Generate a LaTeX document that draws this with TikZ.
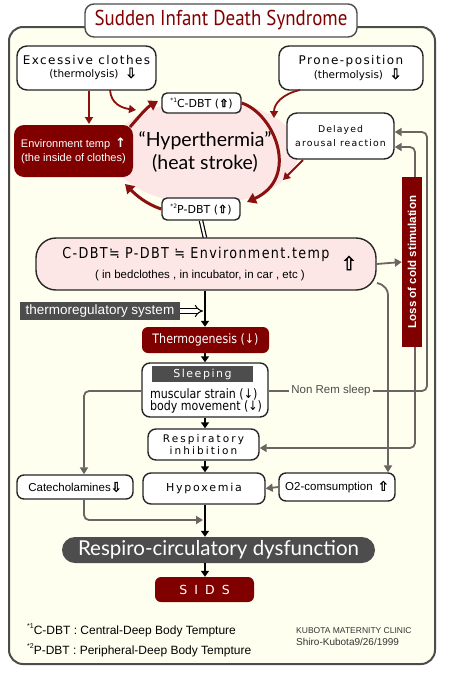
\documentclass[tikz,border=0pt]{standalone}
\usepackage{fontspec}
\setmainfont{DejaVu Sans}
\newfontfamily\dv{DejaVu Sans}
\newfontfamily\dvfb[FakeBold=2.5]{DejaVu Sans}
\newfontfamily\lato{Lato}
\newfontfamily\ptcond[FakeStretch=0.88]{PT Sans}
\newfontfamily\libsans{Liberation Sans}
\newfontfamily\dvsp[LetterSpace=12]{DejaVu Sans}
\newfontfamily\dvcond[FakeStretch=0.85]{DejaVu Sans}
\newfontfamily\dvcondsp[FakeStretch=0.85,LetterSpace=9]{DejaVu Sans}
\newcommand\uparr{{\dvfb ⇧}}
\newcommand\dnarr{{\dvfb ⇩}}
\usetikzlibrary{arrows.meta,shapes.geometric,calc}
\definecolor{dred}{HTML}{800000}
\definecolor{ared}{HTML}{8B1111}
\definecolor{cream}{HTML}{FFFFF0}
\definecolor{pinkf}{HTML}{FDE6E6}
\definecolor{dgray}{HTML}{4D4D4D}
\definecolor{lgray}{HTML}{6B6462}
\tikzset{
  wbox/.style={draw=black!85, line width=1.4pt, fill=white, rounded corners=8pt, inner sep=0pt},
  rbox/.style={fill=dred, rounded corners=6pt, inner sep=0pt, text=white},
  gbox/.style={fill=dgray, inner sep=0pt, text=white},
  lbl/.style={inner sep=0pt},
  redarr/.style={draw=ared, line width=3pt, -{Triangle[length=9pt,width=11pt]}},
  redthin/.style={draw=ared, line width=1.8pt, -{Triangle[length=7pt,width=8pt]}},
  blkarr/.style={draw=black, line width=2.6pt, -{Triangle[length=6pt,width=8pt]}},
  grayarr/.style={draw=lgray, line width=1.8pt, rounded corners=5pt, -{Triangle[length=7pt,width=8pt]}},
  grayln/.style={draw=lgray, line width=1.8pt, rounded corners=5pt},
}
\begin{document}
\begin{tikzpicture}[x=1pt,y=-1pt]
\useasboundingbox (0,0) rectangle (450,675);
\fill[white] (0,0) rectangle (450,675);
% outer frame
\draw[draw=black!70, line width=2pt, fill=cream, rounded corners=14pt] (9,27) rectangle (435,664);
% title
\node[wbox, draw=black!70, minimum width=272pt, minimum height=33pt, rounded corners=9pt, text=dred,
  font={\ptcond\fontsize{21.5}{24}\selectfont}] (title) at (221,20.5) {Sudden Infant Death Syndrome};

% top boxes
\node[wbox, minimum width=139pt, minimum height=44pt, rounded corners=10pt, align=center] (excl) at (86.5,68)
  {\dvsp\fontsize{12}{16}\selectfont Excessive clothes\\[1pt]\dv\fontsize{10.5}{12}\selectfont\ \ \ \ (thermolysis) \ {\fontsize{14}{12}\selectfont\dnarr}};
\node[wbox, minimum width=144pt, minimum height=44pt, rounded corners=10pt, align=center] (prone) at (351,68)
  {\dvsp\fontsize{12}{16}\selectfont Prone-position\\[1pt]\dv\fontsize{10.5}{12}\selectfont\ \ \ \ (thermolysis) \ {\fontsize{14}{12}\selectfont\dnarr}};

% ellipse
\node[ellipse, fill=pinkf, minimum width=158pt, minimum height=104pt, inner sep=0pt, align=center,
  font={\lato\fontsize{19.5}{23}\selectfont}] (hyper) at (205,152)
  {“Hyperthermia”\\(heat stroke)};

\node[wbox, minimum width=79pt, minimum height=20pt, rounded corners=5pt] (cdbt) at (201.5,103)
  {\fontsize{11}{12}\selectfont\raisebox{5pt}{\fontsize{6}{6}\selectfont *1}C-DBT (\uparr)};
\node[wbox, minimum width=78pt, minimum height=22pt, rounded corners=5pt] (pdbt) at (201,209)
  {\fontsize{11}{12}\selectfont\raisebox{5pt}{\fontsize{6}{6}\selectfont *2}P-DBT (\uparr)};

\node[rbox, minimum width=119pt, minimum height=52pt, rounded corners=10pt, align=center,
  font={\libsans\fontsize{11}{14}\selectfont}] (env) at (73.5,151)
  {Environment temp \,{\dv\bfseries\fontsize{13}{12}\selectfont ↑}\\(the inside of clothes)};

\node[wbox, minimum width=107pt, minimum height=46pt, rounded corners=10pt, align=center,
  font={\dvsp\fontsize{9.3}{14}\selectfont}] (delay) at (340.5,136)
  {Delayed\\arousal reaction};

% red arrows
\draw[redthin] (excl.south -| 89,0) -- (89,124);
\draw[redthin] (110,90) .. controls (111,104) and (122,108) .. (136,110);
\draw[redthin] (300,90) .. controls (282,94) and (274,104) .. (274,118);
\draw[redthin] (303,160) -- (283,180);
\draw[redarr] (cdbt.east) .. controls (275,114) and (300,178) .. (247,202);
\draw[redarr] (pdbt.west) .. controls (146,204) and (136,195) .. (125,184);
\draw[redarr] (130,127) .. controls (138,118) and (146,108) .. (158,101);

% double line
\draw[black, line width=1.2pt, double=white, double distance=2.2pt] (pdbt.south) -- (205,238);

% big box
\node[wbox, fill=pinkf, minimum width=340pt, minimum height=52pt, rounded corners=20pt] (big) at (206,264) {};
\node[lbl] (bigt1) at (196,254) {\dvcondsp\fontsize{15}{16}\selectfont C-DBT≒ P-DBT ≒ Environment.temp};
\node[lbl] (bigt2) at (200,276) {\libsans\fontsize{11.5}{12}\selectfont ( in bedclothes , in incubator, in car , etc )};
\node[lbl] (bigup) at (349,263) {\fontsize{19}{18}\selectfont\uparr};

% thermoregulatory system
\node[gbox, minimum width=160pt, minimum height=18pt] (treg) at (100,311)
  {\libsans\fontsize{13.5}{14}\selectfont thermoregulatory system};
\draw[black, line width=1pt, double=white, double distance=3.2pt, -{Implies}] (treg.east) -- (203,311);

% thermogenesis
\node[rbox, minimum width=127pt, minimum height=26pt] (thermog) at (205.5,340)
  {\dvcond\fontsize{13}{14}\selectfont Thermogenesis (↓)};
\draw[blkarr] (big.south -| 205,0) -- (thermog.north -| 205,0);

% sleeping
\node[wbox, minimum width=126pt, minimum height=54pt, rounded corners=8pt] (sleep) at (205,390) {};
\node[gbox, minimum width=101pt, minimum height=16pt] (sleepbar) at (202.5,374)
  {\dvsp\fontsize{11}{12}\selectfont\addfontfeature{LetterSpace=14}Sleeping};
\node[lbl, align=left, font={\dvcond\fontsize{13}{12}\selectfont}] (sleeptxt) at (206,401)
  {muscular strain (↓)\\body movement (↓)};
\draw[blkarr] (thermog.south -| 205,0) -- (sleep.north -| 205,0);

% respiratory inhibition
\node[wbox, minimum width=111pt, minimum height=31pt, rounded corners=8pt, align=center,
  font={\dv\addfontfeature{LetterSpace=20}\fontsize{10.5}{12.5}\selectfont}] (resp) at (203.5,444.5)
  {Respiratory\\inhibition};
\draw[blkarr] (sleep.south -| 205,0) -- (resp.north -| 205,0);

% hypoxemia, catecholamines, O2
\node[wbox, minimum width=122pt, minimum height=31pt, rounded corners=8pt] (hypox) at (204,488.5)
  {\dv\addfontfeature{LetterSpace=16}\fontsize{11}{12}\selectfont Hypoxemia};
\node[wbox, minimum width=116pt, minimum height=24pt, rounded corners=7pt] (catech) at (75,487)
  {\libsans\fontsize{11.5}{12}\selectfont Catecholamines{\fontsize{13}{12}\selectfont\dnarr}};
\node[wbox, minimum width=116pt, minimum height=28pt, rounded corners=7pt] (o2) at (337,487)
  {\libsans\fontsize{11.5}{12}\selectfont O2-comsumption \,{\fontsize{13}{12}\selectfont\uparr}};
\draw[blkarr] (resp.south -| 205,0) -- (hypox.north -| 205,0);

% loss of cold stimulation
\node[rbox, rounded corners=0pt, minimum width=20pt, minimum height=170pt] (loss) at (412,262) {};
\node[lbl, rotate=90, text=white] (losst) at (412,262) {\libsans\bfseries\fontsize{11.5}{12}\selectfont Loss of cold stimulation};

% respiro-circulatory dysfunction
\node[gbox, minimum width=313pt, minimum height=26pt, rounded corners=13pt] (respiro) at (218.5,550)
  {\lato\fontsize{20.5}{22}\selectfont Respiro-circulatory dysfunction};
\draw[blkarr] (hypox.south -| 205,0) -- (respiro.north -| 205,0);

\node[rbox, minimum width=99pt, minimum height=25pt] (sids) at (204.5,589.5)
  {\dv\addfontfeature{LetterSpace=25}\fontsize{12.5}{12}\selectfont S I D S};
\draw[blkarr] (respiro.south -| 205,0) -- (sids.north -| 205,0);

% gray connectors
\draw[grayarr] (big.east) -- (loss.west);
\draw[grayarr] (377,283) .. controls (385,285) and (388,290) .. (388,300) -- (o2.north -| 388,0);
\node[lbl, text=black!70] (nonrem) at (331,391) {\libsans\fontsize{11.5}{12}\selectfont Non Rem sleep};
\draw[grayln] (sleep.east |- 0,391) -- ([xshift=-2pt]nonrem.west);
\draw[grayarr] ([xshift=2pt]nonrem.east) -- (427,391) -- (427,132) -- (delay.east |- 0,132);
\draw[grayarr] (loss.north -| 415,0) -- (415,147) -- (delay.east |- 0,147);
\draw[grayarr] (loss.south -| 415,0) -- (415,448) -- (resp.east |- 0,448);
\draw[grayarr] (sleep.west |- 0,391) -- (84,391) -- (catech.north -| 84,0);
\draw[grayarr] (catech.south -| 84,0) -- (84,520) -- (203,520);
\draw[grayarr] (o2.west) -- (hypox.east);

% footnotes
\node[lbl, anchor=west] (fn1) at (27,630) {\libsans\fontsize{12}{12}\selectfont\raisebox{6pt}{\fontsize{7}{7}\selectfont *1}C-DBT : Central-Deep Body Tempture};
\node[lbl, anchor=west] (fn2) at (27,650) {\libsans\fontsize{12}{12}\selectfont\raisebox{6pt}{\fontsize{7}{7}\selectfont *2}P-DBT : Peripheral-Deep Body Tempture};
\node[lbl, anchor=west, text=black!80] (clinic) at (296,631) {\libsans\fontsize{8.5}{9}\selectfont KUBOTA MATERNITY CLINIC};
\node[lbl, anchor=west, text=black!80] (author) at (296,642) {\libsans\fontsize{10}{10}\selectfont Shiro-Kubota9/26/1999};
\end{tikzpicture}
\end{document}
